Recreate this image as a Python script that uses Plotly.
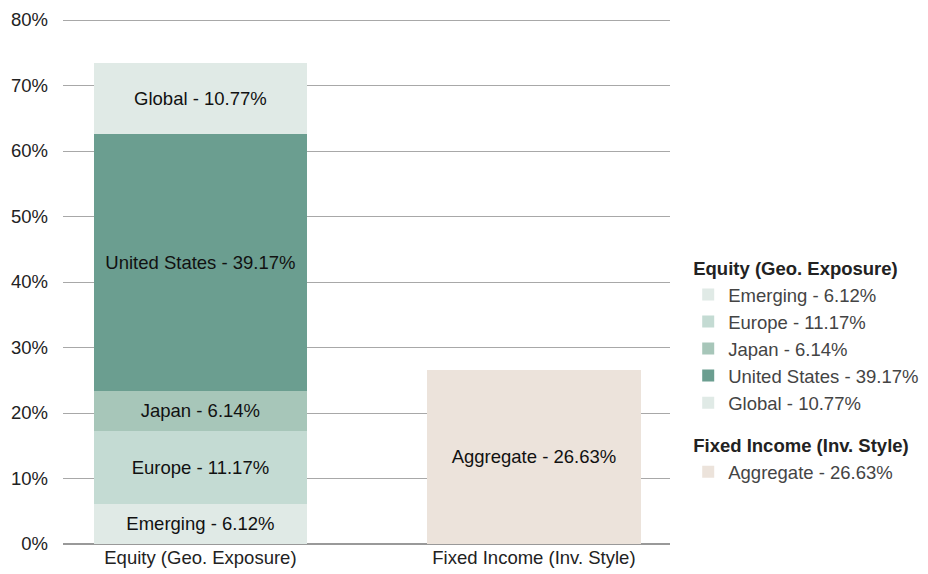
import plotly.graph_objects as go

categories = ["Equity (Geo. Exposure)", "Fixed Income (Inv. Style)"]
equity_names = ["Emerging", "Europe", "Japan", "United States", "Global"]
equity_values = [6.12, 11.17, 6.14, 39.17, 10.77]
equity_colors = ["#e0eae6", "#c4dbd3", "#a7c6b9", "#6b9e90", "#e0eae6"]
fixed_names = ["Aggregate"]
fixed_values = [26.63]
fixed_colors = ["#ece3db"]
y_ticks = [0, 10, 20, 30, 40, 50, 60, 70, 80]

FONT = "Liberation Sans, Arial, Helvetica, sans-serif"
FS = 18.5
fig = go.Figure()

for name, val, col in zip(equity_names, equity_values, equity_colors):
    label = f"{name} - {val:.2f}%"
    fig.add_trace(go.Bar(
        x=[categories[0]], y=[val], name=label, marker=dict(color=col, line=dict(width=0)),
        text=[label], textposition="inside", insidetextanchor="middle",
        textfont=dict(color="#111111", size=FS, family=FONT),
        width=0.64, legendgroup="equity",
        legendgrouptitle=dict(text="<b>Equity (Geo. Exposure)</b>", font=dict(size=FS, color="#222222", family=FONT)),
        hoverinfo="skip",
    ))

for name, val, col in zip(fixed_names, fixed_values, fixed_colors):
    label = f"{name} - {val:.2f}%"
    fig.add_trace(go.Bar(
        x=[categories[1]], y=[val], name=label, marker=dict(color=col, line=dict(width=0)),
        text=[label], textposition="inside", insidetextanchor="middle",
        textfont=dict(color="#111111", size=FS, family=FONT),
        width=0.64, legendgroup="fixed",
        legendgrouptitle=dict(text="<b>Fixed Income (Inv. Style)</b>", font=dict(size=FS, color="#222222", family=FONT)),
        hoverinfo="skip",
    ))

fig.update_layout(
    barmode="stack",
    width=928, height=574,
    margin=dict(l=55, r=266, t=9, b=38, autoexpand=False),
    paper_bgcolor="white", plot_bgcolor="white",
    font=dict(family=FONT, size=FS, color="#222222"),
    showlegend=True,
    legend=dict(
        x=1.03, xanchor="left", y=0.56, yanchor="top",
        traceorder="grouped", tracegroupgap=15,
        font=dict(size=FS, color="#444444", family=FONT),
        itemsizing="constant",
    ),
    uniformtext=dict(minsize=FS, mode="show"),
)
fig.update_xaxes(
    range=[-0.412, 1.408], showgrid=False, showline=False, ticks="",
    tickfont=dict(size=FS, color="#222222"),
)
fig.update_yaxes(
    range=[0, 80.46], tickvals=y_ticks, ticktext=[f"{v}%" for v in y_ticks],
    showgrid=True, gridcolor="#a8a8a8", gridwidth=1,
    zeroline=True, zerolinecolor="#999999", zerolinewidth=1.5,
    showline=False, ticks="", ticklabelstandoff=14,
    tickfont=dict(size=FS, color="#222222"),
)

fig.write_html("out.html")
